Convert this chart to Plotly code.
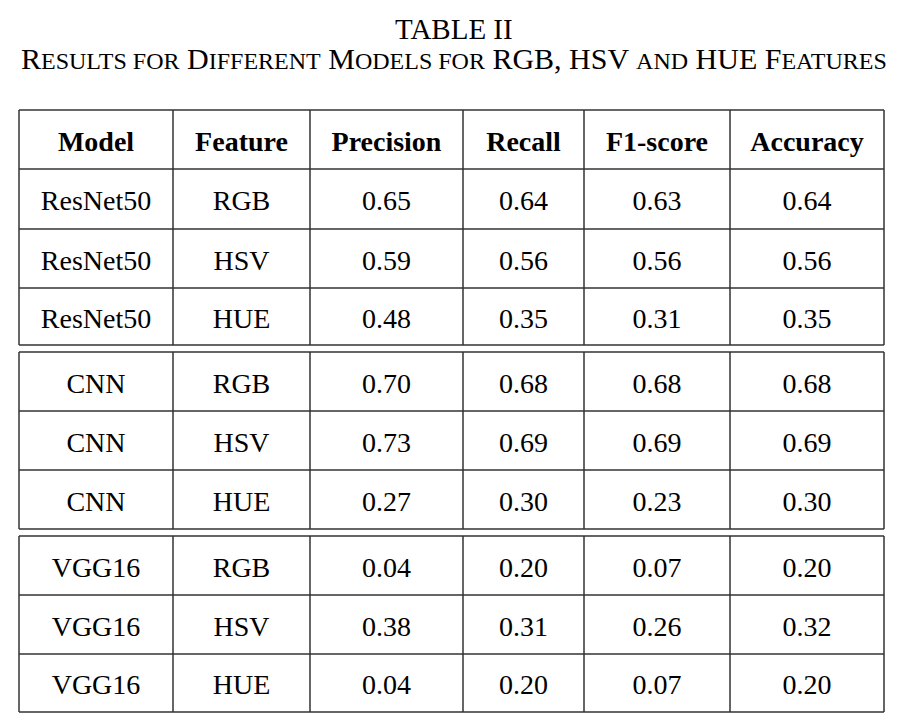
import plotly.graph_objects as go

# table data
headers = ["Model", "Feature", "Precision", "Recall", "F1-score", "Accuracy"]
models = ["ResNet50", "ResNet50", "ResNet50", "CNN", "CNN", "CNN", "VGG16", "VGG16", "VGG16"]
features = ["RGB", "HSV", "HUE", "RGB", "HSV", "HUE", "RGB", "HSV", "HUE"]
precision = ["0.65", "0.59", "0.48", "0.70", "0.73", "0.27", "0.04", "0.38", "0.04"]
recall = ["0.64", "0.56", "0.35", "0.68", "0.69", "0.30", "0.20", "0.31", "0.20"]
f1_score = ["0.63", "0.56", "0.31", "0.68", "0.69", "0.23", "0.07", "0.26", "0.07"]
accuracy = ["0.64", "0.56", "0.35", "0.68", "0.69", "0.30", "0.20", "0.32", "0.20"]

# layout (page pixel units on the hidden axes; the page body adds an 8px margin)
W, H = 908, 728
PAD = 8
col_edges = [19, 173, 310, 463, 584, 730, 884]
blocks = [[110, 169, 229, 288, 345], [352, 411, 470, 529], [536, 595, 654, 712]]
LINE = dict(color="#333333", width=1.5)
FONT = "Liberation Serif, Times New Roman, serif"

col_centers = [(a + b) / 2 for a, b in zip(col_edges[:-1], col_edges[1:])]
row_centers = []
for edges in blocks:
    row_centers += [(a + b) / 2 + 4 for a, b in zip(edges[:-1], edges[1:])]
header_y = row_centers[0]
body_y = row_centers[1:]

fig = go.Figure()

fig.add_trace(go.Scatter(
    x=col_centers, y=[header_y] * len(headers),
    text=[f"<b>{h}</b>" for h in headers], mode="text",
    textfont=dict(family=FONT, size=28, color="black"),
    hoverinfo="skip", showlegend=False,
))

for cx, col in zip(col_centers, [models, features, precision, recall, f1_score, accuracy]):
    fig.add_trace(go.Scatter(
        x=[cx] * len(col), y=body_y, text=col, mode="text",
        textfont=dict(family=FONT, size=28, color="black"),
        hoverinfo="skip", showlegend=False,
    ))

shapes = []
for edges in blocks:
    top, bottom = edges[0], edges[-1]
    for y in edges:
        shapes.append(dict(type="line", x0=col_edges[0], x1=col_edges[-1], y0=y, y1=y,
                           xref="x", yref="y", line=LINE))
    for x in col_edges:
        shapes.append(dict(type="line", x0=x, x1=x, y0=top, y1=bottom,
                           xref="x", yref="y", line=LINE))

sc = lambda s: f"<span style='font-size:24px'>{s}</span>"
subtitle = (f"R{sc('ESULTS FOR')} D{sc('IFFERENT')} M{sc('ODELS FOR')} "
            f"RGB, HSV {sc('AND')} HUE F{sc('EATURES')}")

fig.update_layout(
    width=W - PAD, height=H - PAD,
    margin=dict(l=0, r=0, t=0, b=0),
    paper_bgcolor="white", plot_bgcolor="white",
    xaxis=dict(range=[PAD, W], visible=False, fixedrange=True),
    yaxis=dict(range=[H, PAD], visible=False, fixedrange=True),
    shapes=shapes,
    annotations=[
        dict(text="TABLE II", x=W / 2, y=29, xref="x", yref="y", showarrow=False,
             font=dict(family=FONT, size=29, color="black")),
        dict(text=subtitle, x=W / 2, y=58, xref="x", yref="y", showarrow=False,
             font=dict(family=FONT, size=30, color="black")),
    ],
)

fig.write_html("out.html")
